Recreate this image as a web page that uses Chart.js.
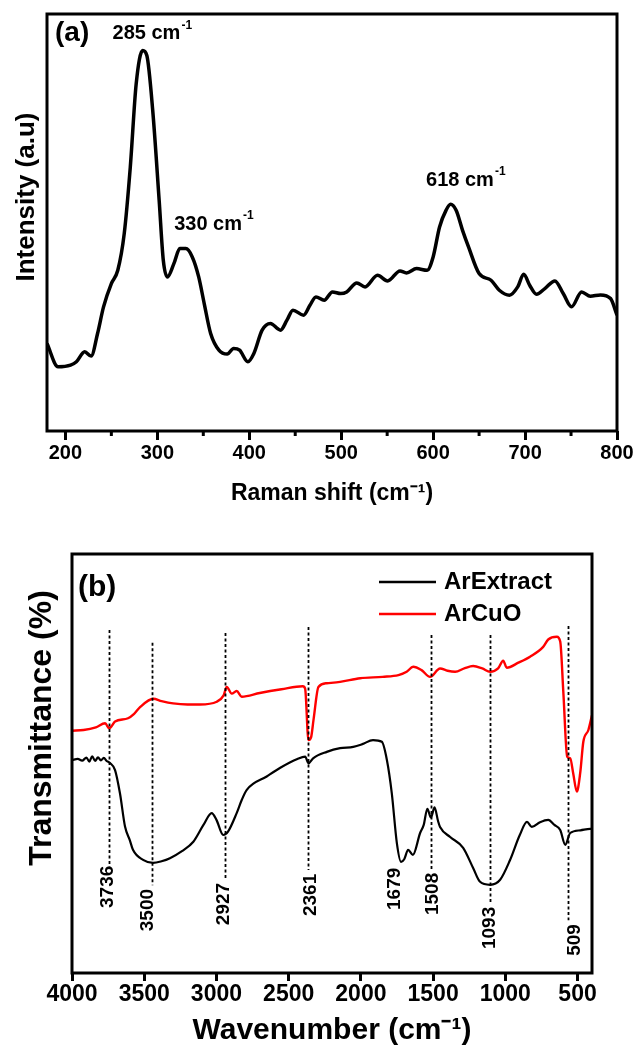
<!DOCTYPE html>
<html><head><meta charset="utf-8">
<script src="https://cdn.jsdelivr.net/npm/chart.js@4.4.0/dist/chart.umd.min.js"></script>
<style>
html,body{margin:0;padding:0;background:#fff;}
#ca{position:absolute;left:0;top:0;}
#cb{position:absolute;left:0;top:520px;}
</style></head><body>
<canvas id="ca" width="644" height="520"></canvas>
<canvas id="cb" width="644" height="527"></canvas>
<script>
// ---------- Panel (a): Raman ----------
const ramanShift = [180,192,205.6,212,221,228,235,241.5,250,257,264,270.6,277,284,288.6,295,302,306.5,311,318,324.5,331,338,345,351,358,367,376,383,389.5,398.5,405,414,423,434,441,447.5,459,466,472.5,481.5,490.5,499.5,506,517,526,539.5,550.5,564,571,582,593.5,600,607,614,619,625,632,638.5,650,663,672,683,692,698.5,705,712.5,721.5,732.5,741.5,750.5,761.5,771,782,793,800];
const ramanIntensity = [263,193,198,208,238,225,293,373,443,483,593,793,1043,1143,1128,963,693,513,463,503,548,548,523,463,383,293,243,231,248,243,208,233,303,323,303,333,363,348,378,403,393,418,413,418,445,433,468,451,481,475,488,483,523,613,663,681,663,603,553,473,453,423,408,433,471,438,411,428,451,413,373,418,405,409,398,348];
const ramanTicks = [200,300,400,500,600,700,800];
const ramanMinorTicks = [250,350,450,550,650,750];
const ramanPeaks = [285,330,618];
const ramanPeakLabelAt = [294,361,635];
const ramanPeakLabelY = [1193,622,754];

// ---------- Panel (b): FTIR ----------
const extractWavenumber = [4000,3960,3930,3900,3880,3860,3840,3820,3800,3780,3760,3737,3702,3668,3633,3600,3578,3508,3439,3380,3322,3239,3160,3090,3033,3000,2953,2920,2860,2825,2790,2652,2558,2440,2386,2363,2331,2236,2144,2053,1990,1916,1855,1820,1786,1751,1722,1700,1673,1640,1590,1565,1540,1515,1490,1465,1452,1382,1292,1223,1175,1105,1036,968,900,850,817,760,703,660,620,585,551,480,413,400];
const extractTransmittance = [633,636,631,640,628,644,630,641,632,639,630,624,603,534,435,395,366,336,327,332,341,362,390,440,475,455,410,420,475,514,544,584,610,636,643,623,638,657,668,672,680,692,687,633,534,386,330,338,366,351,416,440,488,462,492,450,434,404,372,312,271,262,277,335,410,449,434,448,455,440,425,381,416,424,428,428];
const cuoWavenumber = [4000,3920,3835,3771,3742,3702,3612,3570,3529,3437,3380,3300,3200,3114,2998,2950,2929,2894,2860,2825,2700,2550,2402,2386,2363,2345,2328,2294,2236,2144,2005,1850,1740,1683,1638,1580,1521,1452,1400,1348,1280,1223,1160,1105,1050,1015,990,910,829,738,703,643,620,598,572,551,530,505,482,460,425,400];
const cuoTransmittance = [720,722,730,742,727,747,757,770,790,815,808,801,798,798,806,825,850,830,838,821,832,843,852,845,692,700,752,850,861,865,876,880,885,895,910,900,880,905,898,895,906,912,905,895,905,928,907,922,940,969,991,999,985,831,643,638,593,539,593,687,722,766];
const ftirTicks = [4000,3500,3000,2500,2000,1500,1000,500];
const ftirLineAt = [3742,3448,2940,2366,1515,1105,565];
const ftirLineTop = [1019,981,1010,1028,1004,1004,1031];
const ftirLineBottom = [312,261,279,306,309,208,157];
const ftirPeakText = ['3736','3500','2927','2361','1679','1508','1093','509'];
const ftirPeakLabelAt = [3751,3474,2947,2345,1763,1500,1110,520];
const ftirPeakLabelY = [256,187,205,232,250,235,134,98];

const F = '"Liberation Sans", Arial, sans-serif';

function drawSup(ctx, main, sup, cx, cy, size) {
  ctx.font = 'bold ' + size + 'px ' + F;
  const w1 = ctx.measureText(main).width;
  ctx.font = 'bold ' + Math.round(size * 0.6) + 'px ' + F;
  const w2 = ctx.measureText(sup).width;
  const start = cx - (w1 + w2) / 2;
  ctx.textAlign = 'left';
  ctx.textBaseline = 'middle';
  ctx.font = 'bold ' + size + 'px ' + F;
  ctx.fillText(main, start, cy);
  ctx.font = 'bold ' + Math.round(size * 0.6) + 'px ' + F;
  ctx.fillText(sup, start + w1 + 1, cy - size * 0.42);
}

const annotA = {
  id: 'annotA',
  afterDatasetsDraw(chart) {
    const {ctx, chartArea: a, scales: {x, y}} = chart;
    ctx.save();
    ctx.strokeStyle = '#000';
    ctx.lineWidth = 3;
    ctx.strokeRect(a.left, a.top, a.right - a.left, a.bottom - a.top);
    ramanMinorTicks.forEach(v => {
      const px = x.getPixelForValue(v);
      ctx.beginPath(); ctx.moveTo(px, a.bottom); ctx.lineTo(px, a.bottom + 5); ctx.stroke();
    });
    ctx.fillStyle = '#000';
    ctx.font = 'bold 28px ' + F;
    ctx.textAlign = 'left'; ctx.textBaseline = 'middle';
    ctx.fillText('(a)', a.left + 8, a.top + 19);
    ramanPeaks.forEach((p, i) => {
      drawSup(ctx, p + ' cm', '-1', x.getPixelForValue(ramanPeakLabelAt[i]), y.getPixelForValue(ramanPeakLabelY[i]), 20);
    });
    ctx.translate(27, 197);
    ctx.rotate(-Math.PI / 2);
    ctx.font = 'bold 26px ' + F;
    ctx.textAlign = 'center'; ctx.textBaseline = 'middle';
    ctx.fillText('Intensity (a.u)', 0, 0);
    ctx.restore();
  }
};

const annotB = {
  id: 'annotB',
  afterDatasetsDraw(chart) {
    const {ctx, chartArea: a, scales: {x, y}} = chart;
    ctx.save();
    ctx.strokeStyle = '#000';
    ctx.lineWidth = 3;
    ctx.strokeRect(a.left, a.top, a.right - a.left, a.bottom - a.top);
    // dashed marker lines
    ctx.save();
    ctx.setLineDash([3, 2.5]);
    ctx.lineWidth = 1.8;
    ftirLineAt.forEach((v, i) => {
      const px = Math.round(x.getPixelForValue(v)) + 0.5;
      ctx.beginPath();
      ctx.moveTo(px, y.getPixelForValue(ftirLineTop[i]));
      ctx.lineTo(px, y.getPixelForValue(ftirLineBottom[i]));
      ctx.stroke();
    });
    ctx.restore();
    // rotated peak labels
    ctx.fillStyle = '#000';
    ftirPeakText.forEach((t, i) => {
      ctx.save();
      ctx.translate(x.getPixelForValue(ftirPeakLabelAt[i]), y.getPixelForValue(ftirPeakLabelY[i]));
      ctx.rotate(-Math.PI / 2);
      ctx.font = 'bold 19px ' + F;
      ctx.textAlign = 'center'; ctx.textBaseline = 'middle';
      ctx.fillText(t, 0, 0);
      ctx.restore();
    });
    // legend
    chart.data.datasets.forEach((ds, i) => {
      const ly = 62 + i * 32;
      ctx.strokeStyle = ds.borderColor;
      ctx.lineWidth = 2.5;
      ctx.beginPath(); ctx.moveTo(379, ly); ctx.lineTo(436, ly); ctx.stroke();
      ctx.fillStyle = '#000';
      ctx.font = 'bold 24px ' + F;
      ctx.textAlign = 'left'; ctx.textBaseline = 'middle';
      ctx.fillText(ds.label, 444, ly);
    });
    // panel letter
    ctx.font = 'bold 30px ' + F;
    ctx.textAlign = 'left'; ctx.textBaseline = 'middle';
    ctx.fillText('(b)', a.left + 6, a.top + 34);
    // y title
    ctx.translate(42, 208);
    ctx.rotate(-Math.PI / 2);
    ctx.font = 'bold 32px ' + F;
    ctx.textAlign = 'center'; ctx.textBaseline = 'middle';
    ctx.fillText('Transmittance (%)', 0, 0);
    ctx.restore();
  }
};

Chart.defaults.font.family = F;
Chart.defaults.color = '#000';

new Chart(document.getElementById('ca'), {
  type: 'line',
  data: {datasets: [{
    label: 'Raman',
    data: ramanShift.map((v, i) => ({x: v, y: ramanIntensity[i]})),
    borderColor: '#000', borderWidth: 3.5, pointRadius: 0,
    cubicInterpolationMode: 'monotone', fill: false
  }]},
  options: {
    responsive: false, animation: false, events: [],
    layout: {padding: {top: 14, right: 27, left: 0, bottom: 0}},
    plugins: {legend: {display: false}, tooltip: {enabled: false}},
    scales: {
      x: {
        type: 'linear', min: 180, max: 800,
        afterBuildTicks: s => { s.ticks = ramanTicks.map(v => ({value: v})); },
        afterFit: s => { s.height = 89; },
        ticks: {font: {size: 20, weight: 'bold'}, color: '#000', padding: 1, maxRotation: 0, autoSkip: false, callback: v => String(v)},
        grid: {drawOnChartArea: false, drawTicks: true, tickLength: 9, tickWidth: 3, tickColor: '#000'},
        border: {display: false},
        title: {display: true, text: 'Raman shift (cm⁻¹)', font: {size: 23, weight: 'bold'}, color: '#000', padding: {top: 0, bottom: 13}}
      },
      y: {
        type: 'linear', min: 0, max: 1253,
        ticks: {display: false}, grid: {display: false}, border: {display: false},
        afterFit: s => { s.width = 47; }
      }
    }
  },
  plugins: [annotA]
});

new Chart(document.getElementById('cb'), {
  type: 'line',
  data: {datasets: [
    {label: 'ArExtract', data: extractWavenumber.map((v, i) => ({x: v, y: extractTransmittance[i]})),
     borderColor: '#000000', borderWidth: 2.2, pointRadius: 0, cubicInterpolationMode: 'monotone', fill: false},
    {label: 'ArCuO', data: cuoWavenumber.map((v, i) => ({x: v, y: cuoTransmittance[i]})),
     borderColor: '#ff0000', borderWidth: 2.4, pointRadius: 0, cubicInterpolationMode: 'monotone', fill: false}
  ]},
  options: {
    responsive: false, animation: false, events: [],
    layout: {padding: {top: 34, right: 52, left: 0, bottom: 0}},
    plugins: {legend: {display: false}, tooltip: {enabled: false}},
    scales: {
      x: {
        type: 'linear', min: 400, max: 4000, reverse: true,
        afterBuildTicks: s => { s.ticks = ftirTicks.map(v => ({value: v})); },
        afterFit: s => { s.height = 74; },
        ticks: {font: {size: 23, weight: 'bold'}, color: '#000', padding: 0, maxRotation: 0, autoSkip: false, callback: v => String(v)},
        grid: {drawOnChartArea: false, drawTicks: true, tickLength: 8, tickWidth: 3, tickColor: '#000'},
        border: {display: false},
        title: {display: true, text: 'Wavenumber (cm⁻¹)', font: {size: 30, weight: 'bold', lineHeight: 1}, color: '#000', padding: {top: 0, bottom: 1}}
      },
      y: {
        type: 'linear', min: 0, max: 1245,
        ticks: {display: false}, grid: {display: false}, border: {display: false},
        afterFit: s => { s.width = 72; }
      }
    }
  },
  plugins: [annotB]
});
</script>
</body></html>
